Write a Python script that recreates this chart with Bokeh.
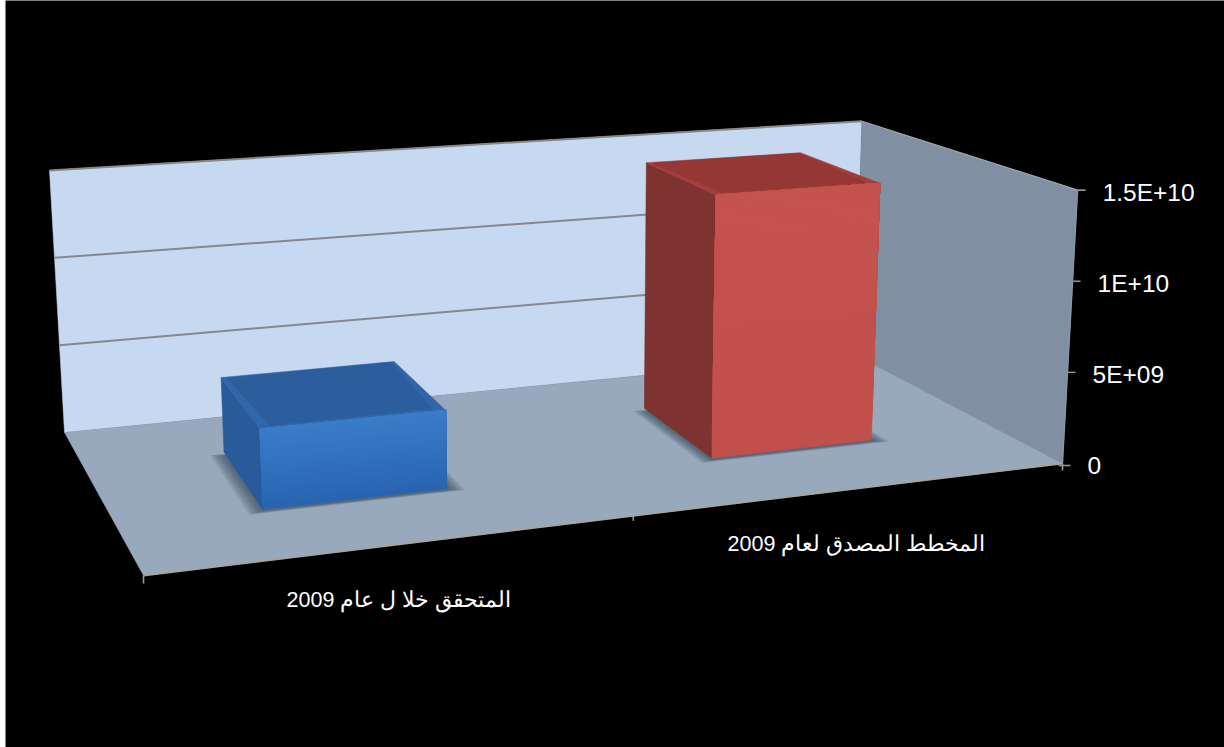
from bokeh.plotting import figure
from bokeh.embed import file_html
from bokeh.resources import INLINE
from bokeh.core.properties import value

# ---- chart data ----
categories = ["المتحقق خلا ل عام 2009", "المخطط المصدق لعام 2009"]
series_values = [4.15e9, 1.455e10]
value_ticks = [0, 5e9, 1e10, 1.5e10]
tick_labels = ["0", "5E+09", "1E+10", "1.5E+10"]
axis_max = 1.5e10

# ---- projection: floor homography + vertical homology (screen px) ----
BL, BR, FR, FL = (64, 432), (854, 354), (1062, 463), (143, 575)
VPX, VPY = 572, 9302
dx1, dx2 = BR[0] - FR[0], FL[0] - FR[0]
dy1, dy2 = BR[1] - FR[1], FL[1] - FR[1]
sx = BL[0] - BR[0] + FR[0] - FL[0]
sy = BL[1] - BR[1] + FR[1] - FL[1]
den = dx1 * dy2 - dx2 * dy1
G = (sx * dy2 - dx2 * sy) / den
H = (dx1 * sy - sx * dy1) / den
A, B, C = BR[0] - BL[0] + G * BR[0], FL[0] - BL[0] + H * FL[0], BL[0]
D, E, F = BR[1] - BL[1] + G * BR[1], FL[1] - BL[1] + H * FL[1], BL[1]


def P(u, v, val=0.0):
    w = 1 + G * u + H * v
    x, y = (A * u + B * v + C) / w, (D * u + E * v + F) / w
    hh = (val / axis_max) * (103 + 0.368 * y)
    return x + hh * (x - VPX) / (VPY - y), y - hh


p = figure(width=1219, height=747, x_range=(5, 1224), y_range=(747, 0),
           output_backend="svg", toolbar_location=None,
           x_axis_location=None, y_axis_location=None,
           background_fill_color="black", border_fill_color="black",
           min_border=0, outline_line_color=None)
p.grid.visible = False
p.styles = {"position": "absolute", "left": "5px", "top": "0px"}


def poly(pts, color, alpha=1.0, lw=0.5):
    p.patch([q[0] for q in pts], [q[1] for q in pts], fill_color=color,
            fill_alpha=alpha, line_color=color if lw else None, line_alpha=alpha, line_width=lw or 1)


def seg(a, b, color, width=1.5):
    p.line([a[0], b[0]], [a[1], b[1]], line_color=color, line_width=width)


def rgb(c):
    return "#%02x%02x%02x" % tuple(c)


def mix(c1, c2, f):
    return rgb(int(round(c1[i] + (c2[i] - c1[i]) * f)) for i in range(3))


# walls and floor
top = axis_max
poly([P(0, 0), P(1, 0), P(1, 0, top), P(0, 0, top)], "#c6d9f1")
poly([P(1, 0), P(1, 1), P(1, 1, top), P(1, 0, top)], "#808fa2")
poly([P(0, 0), P(1, 0), P(1, 1), P(0, 1)], "#99a9bd")

# gridlines on the back wall, wall edges
for t in value_ticks[1:]:
    seg(P(0, 0, t), P(1, 0, t), "#85888c", 2)
seg(P(1, 0, top), P(1, 1, top), "#9aa6b4", 1.2)
seg(P(0, 1), P(1, 1), "#a8a49c", 1.8)
seg(P(1, 1), P(1, 1, top), "#8a98a8", 1.2)

# ticks and value labels
for t, lab in zip(value_ticks, tick_labels):
    x, y = P(1, 1, t)
    seg((x - 4 if t == 0 else x, y + 2 if t == 0 else y),
        (x + 8, y + 2 if t == 0 else y), "#8f8f8f", 1.6)
    p.text([x + 25], [y + 2], text=[lab], text_color="white",
           text_font=value("Liberation Sans"), text_font_size="24.5px",
           text_align="left", text_baseline="middle")

for u, tick_len in ((0.0, 8), (0.495, 5), (1.0, 7)):
    x, y = P(u, 1)
    seg((x, y), (x, y + tick_len), "#9a9a9a", 1.6)

# bars
BAR_HALF = 0.098
V0, V1 = 0.275, 0.695
SKEW = 0.0045
faces = [
    dict(front_top=(58, 124, 201), front_bot=(40, 100, 176), side=(41, 90, 153),
         side_edge=(36, 80, 140), roof=(44, 94, 158), roof_edge=(49, 102, 170)),
    dict(front_top=(196, 82, 78), front_bot=(193, 79, 75), side=(127, 51, 49),
         side_edge=(138, 54, 51), roof=(149, 55, 52), roof_edge=(163, 61, 57)),
]


def Q(u, v, val=0.0):
    return P(u + SKEW * (V1 - v) / (V1 - V0), v, val)


for i, (val, st) in enumerate(zip(series_values, faces)):
    uc = (i + 0.5) / len(series_values) - 0.0035
    u0, u1 = uc - BAR_HALF, uc + BAR_HALF
    # soft shadow on the floor
    for k in range(8, 0, -1):
        e = k * 0.0021
        poly([Q(u0 - e, V0 + 0.03 - e), Q(u1 + e, V0 + 0.03 - e),
              Q(u1 + e, V1 + 0.008 + e), Q(u0 - e, V1 + 0.008 + e)],
             "#2f4152", 0.11, lw=0)
    # side face
    poly([Q(u0, V0), Q(u0, V1), Q(u0, V1, val), Q(u0, V0, val)], rgb(st["side"]))
    # roof with bevelled edge
    poly([Q(u0, V0, val), Q(u1, V0, val), Q(u1, V1, val), Q(u0, V1, val)], rgb(st["roof_edge"]))
    poly([Q(u0 + 0.006, V0 + 0.012, val), Q(u1 - 0.003, V0 + 0.004, val),
          Q(u1 - 0.012, V1 - 0.022, val), Q(u0 + 0.012, V1 - 0.018, val)], rgb(st["roof"]))
    # front face as a vertical ramp, painted bottom-up so that no seams show
    n = 24
    for k in range(n):
        a = val * k / n
        poly([Q(u0, V1, a), Q(u1, V1, a), Q(u1, V1, val), Q(u0, V1, val)],
             mix(st["front_bot"], st["front_top"], (k + 0.5) / n))

# category labels
label_offsets = [(0.25, 1.0), (0.75, 1.0)]
for name, (u, v) in zip(categories, label_offsets):
    x, y = P(u, v)
    p.text([x - 1.5], [y + 55.5], text=[name], text_color="white",
           text_font=value("Liberation Sans"), text_font_size="21.5px",
           text_align="center", text_baseline="middle")

open("out.html", "w").write(file_html(p, INLINE))
